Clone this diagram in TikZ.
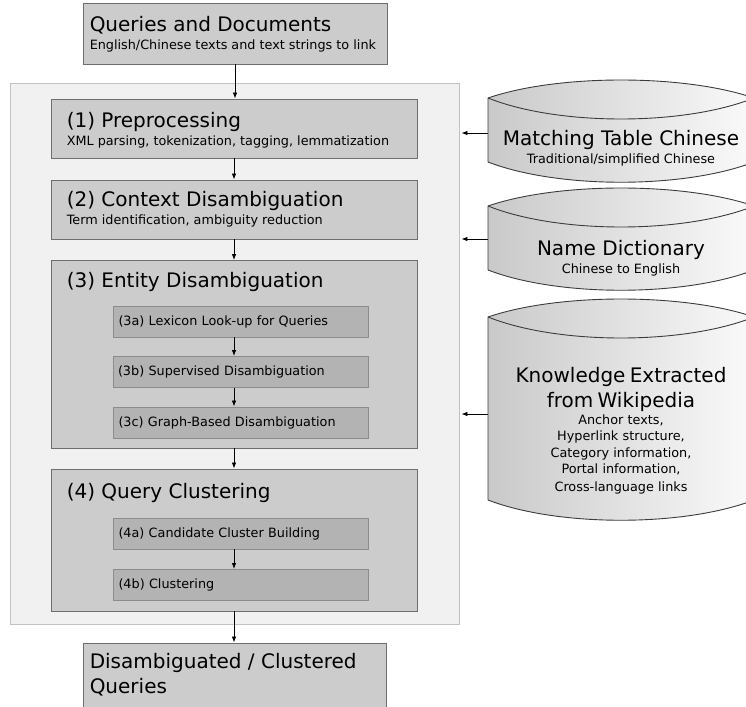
\documentclass[tikz,border=0pt]{standalone}
\usepackage{fontspec}
\setmainfont{DejaVu Sans}
\usetikzlibrary{arrows.meta,positioning}

\definecolor{stagefill}{HTML}{CCCCCC}
\definecolor{stageline}{HTML}{6E6E6E}
\definecolor{subfill}{HTML}{B3B3B3}
\definecolor{subline}{HTML}{8C8C8C}
\definecolor{framefill}{HTML}{F1F1F1}
\definecolor{frameline}{HTML}{C2C2C2}
\definecolor{drumleft}{HTML}{C9C9C9}
\definecolor{drumright}{HTML}{FAFAFA}
\definecolor{drumline}{HTML}{3C3C3C}

\newcommand{\ttlsize}{\fontsize{20}{25}\selectfont}
\newcommand{\subsize}{\fontsize{12.8}{17.5}\selectfont}
\newcommand{\listsize}{\fontsize{12.8}{16.5}\selectfont}

% database drum: top edge y, bottom edge y
\newcommand{\dbdrum}[2]{%
  \shadedraw[left color=drumleft, right color=drumright, draw=drumline, line width=0.9pt]
    (488,#1) .. controls (558,#1-24) and (684,#1-24) .. (754,#1)
    -- (754,#2) .. controls (684,#2+27) and (558,#2+27) .. (488,#2) -- cycle;
  \draw[drumline, line width=0.9pt] (488,#1) .. controls (558,#1+28) and (684,#1+28) .. (754,#1);
}

\begin{document}
\begin{tikzpicture}[x=1pt,y=-1pt,
    flow/.style={-{Latex[length=6pt,width=4.5pt]}, line width=0.8pt},
    frame/.style={draw=frameline, fill=framefill, line width=0.9pt, inner sep=0pt},
    stage/.style={draw=stageline, fill=stagefill, line width=0.9pt, minimum width=366pt, inner sep=0pt},
    substage/.style={draw=subline, fill=subfill, line width=0.9pt, minimum width=255pt, minimum height=31pt,
      text width=245pt, inner xsep=5pt, inner ysep=0pt, align=left, font=\subsize},
    stagetext/.style={anchor=north west, inner sep=0pt, align=left, font=\subsize},
    drumtext/.style={align=center, inner sep=0pt, font=\subsize}]
  \useasboundingbox (0,0) rectangle (746,706);

  % input
  \node[stage, minimum width=304pt, minimum height=61pt] (input) at (235,33.5) {};
  \node[stagetext] (inputtxt) at ([shift={(7,14)}]input.north west)
    {{\ttlsize Queries and Documents}\\English/Chinese texts and text strings to link};

  \node[frame, minimum width=449pt, minimum height=541pt] (outer) at (234.5,353.5) {};

  % knowledge sources
  \dbdrum{98}{162}
  \dbdrum{206}{270}
  \dbdrum{317}{500}
  \node[drumtext] (mtab) at (621,148) {{\ttlsize Matching Table Chinese}\\Traditional/simplified Chinese};
  \node[drumtext] (ndict) at (621,258) {{\ttlsize Name Dictionary}\\Chinese to English};
  \node[drumtext, text width=250pt] (wiki) at (621,430.5)
    {\ttlsize Knowledge Extracted\\from Wikipedia\\\listsize Anchor texts,\\Hyperlink structure,\\Category information,\\Portal information,\\Cross-language links};

  % stages
  \node[stage, minimum height=59pt] (pre) at (234,128.5) {};
  \node[stage, minimum height=59pt] (ctx) at (234,209.5) {};
  \node[stage, minimum height=187.5pt] (ent) at (234,354.25) {};
  \node[stage, minimum height=142pt] (clu) at (234,540) {};

  \node[stagetext] (pretxt) at ([shift={(16,14)}]pre.north west)
    {{\ttlsize (1) Preprocessing}\\XML parsing, tokenization, tagging, lemmatization};
  \node[stagetext] (ctxtxt) at ([shift={(16,12)}]ctx.north west)
    {{\ttlsize (2) Context Disambiguation}\\Term identification, ambiguity reduction};
  \node[stagetext, font=\ttlsize] (enttxt) at ([shift={(16,12)}]ent.north west) {(3) Entity Disambiguation};
  \node[stagetext, font=\ttlsize] (clutxt) at ([shift={(16,15)}]clu.north west) {(4) Query Clustering};

  \node[substage] (lex) at (241,321.5) {(3a) Lexicon Look-up for Queries};
  \node[substage] (sup) at (240.5,372) {(3b) Supervised Disambiguation};
  \node[substage] (gra) at (241,422.5) {(3c) Graph-Based Disambiguation};
  \node[substage] (cand) at (241,533.5) {(4a) Candidate Cluster Building};
  \node[substage] (clus) at (241,585) {(4b) Clustering};

  % output
  \node[stage, minimum width=303pt, minimum height=80pt] (output) at (234.5,683) {};
  \node[stagetext, font=\ttlsize] (outtxt) at ([shift={(7,11)}]output.north west)
    {Disambiguated / Clustered\\Queries};

  % flow
  \draw[flow] (input.south) -- (input.south |- pre.north);
  \draw[flow] (pre) -- (ctx);
  \draw[flow] (ctx) -- (ent);
  \draw[flow] (lex.south -| ent.north) -- (sup.north -| ent.north);
  \draw[flow] (sup.south -| ent.north) -- (gra.north -| ent.north);
  \draw[flow] (ent) -- (clu);
  \draw[flow] (cand.south -| clu.north) -- (clus.north -| clu.north);
  \draw[flow] (clu.south) -- (clu.south |- output.north);

  % sources feed the pipeline
  \coordinate (mtabin) at (488,133);
  \coordinate (ndictin) at (488,239);
  \coordinate (wikiin) at (488,414);
  \draw[flow, shorten >=2pt] (mtabin) -- (mtabin -| outer.east);
  \draw[flow, shorten >=2pt] (ndictin) -- (ndictin -| outer.east);
  \draw[flow, shorten >=2pt] (wikiin) -- (wikiin -| outer.east);
\end{tikzpicture}
\end{document}
